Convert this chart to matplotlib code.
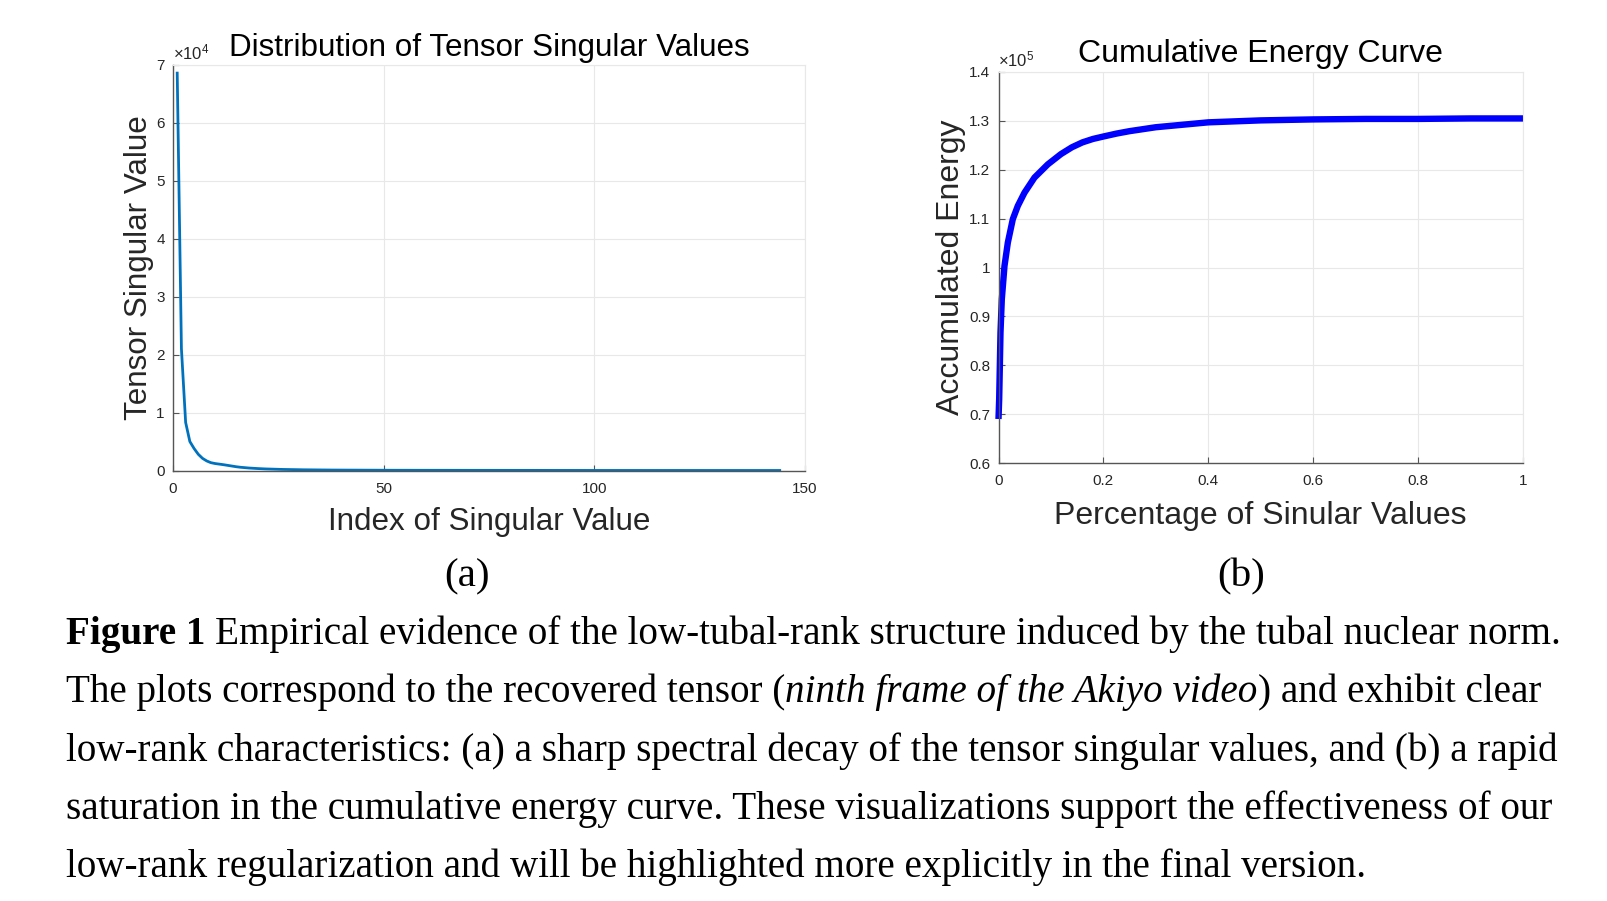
import numpy as np
import matplotlib
matplotlib.use('Agg')
import matplotlib.pyplot as plt
from matplotlib.ticker import FuncFormatter

# figure size in pixels
W, H = 1607, 901

# (a) tensor singular values, index 1..144
sv_head = [68600, 21000, 8300, 5000, 3800, 2800, 2100, 1650, 1350, 1200,
           1100, 1000, 880, 760, 650, 560, 490, 430, 380, 340]
sv_tail = [300, 270, 245, 222, 202, 185, 170, 157, 145, 134,
           124, 115, 107, 100, 94, 88, 83, 78, 74, 70,
           66, 63, 60, 57, 54, 52, 50, 48, 46, 44,
           42, 40, 39, 37, 36, 35, 33, 32, 31, 30,
           29, 28, 27, 26, 25, 25, 24, 23, 22, 22,
           21, 20, 20, 19, 19, 18, 18, 17, 17, 16,
           16, 15, 15, 15, 14, 14, 13, 13, 13, 12,
           12, 12, 11, 11, 11, 11, 10, 10, 10, 10,
           9, 9, 9, 9, 9, 8, 8, 8, 8, 8,
           8, 7, 7, 7, 7, 7, 7, 6, 6, 6,
           6, 6, 6, 6, 5, 5, 5, 5, 5, 5,
           5, 5, 4, 4, 4, 4, 4, 4, 4, 4,
           3, 3, 3, 3]
sing_vals = np.array(sv_head + sv_tail, dtype=float)
sv_index = np.arange(1, len(sing_vals) + 1)

# (b) cumulative energy
pct = [0.0, 0.0013, 0.0038, 0.0063, 0.0114, 0.0178, 0.0273, 0.0368, 0.0495,
       0.0686, 0.094, 0.119, 0.14, 0.16, 0.18, 0.2, 0.225, 0.25, 0.3, 0.35,
       0.4, 0.5, 0.6, 0.7, 0.8, 0.9, 1.0]
energy = [69000, 73100, 86700, 93500, 100300, 105100, 109900, 112600, 115300,
          118400, 121100, 123200, 124600, 125600, 126300, 126800, 127400,
          127900, 128700, 129200, 129700, 130100, 130300, 130400, 130400,
          130500, 130500]

caption = [
    [("Figure 1", "normal", "bold"),
     (" Empirical evidence of the low-tubal-rank structure induced by the tubal nuclear norm.", "normal", "normal")],
    [("The plots correspond to the recovered tensor (", "normal", "normal"),
     ("ninth frame of the Akiyo video", "italic", "normal"),
     (") and exhibit clear", "normal", "normal")],
    [("low-rank characteristics: (a) a sharp spectral decay of the tensor singular values, and (b) a rapid", "normal", "normal")],
    [("saturation in the cumulative energy curve. These visualizations support the effectiveness of our", "normal", "normal")],
    [("low-rank regularization and will be highlighted more explicitly in the final version.", "normal", "normal")],
]

plt.rcParams['font.family'] = ['Liberation Sans', 'DejaVu Sans']
plt.rcParams['mathtext.fontset'] = 'custom'
plt.rcParams['mathtext.rm'] = 'Liberation Sans'
serif = ['Liberation Serif', 'DejaVu Serif']
txt = '#262626'
axc = '#555555'
gridc = '#e8e8e8'

fig = plt.figure(figsize=(W / 100, H / 100), dpi=100)


def style_axes(ax):
    ax.grid(True, color=gridc, lw=0.8)
    ax.set_axisbelow(True)
    for s in ['top', 'right']:
        ax.spines[s].set_color(gridc)
        ax.spines[s].set_linewidth(0.8)
    for s in ['left', 'bottom']:
        ax.spines[s].set_color(axc)
        ax.spines[s].set_linewidth(1.0)
    ax.tick_params(direction='in', length=4, width=0.8, color=axc,
                   labelsize=11, labelcolor=txt)
    ax.tick_params(axis='x', pad=8)
    ax.tick_params(axis='y', pad=6)


# ---- (a) ----
ax1 = fig.add_axes([173 / W, 1 - 470.5 / H, 632 / W, 405.5 / H])
ax1.plot(sv_index, sing_vals, color='#0072BD', lw=2.0)
ax1.set_xlim(0, 150)
ax1.set_ylim(0, 70000)
ax1.set_xticks([0, 50, 100, 150])
ax1.set_yticks(np.arange(0, 70001, 10000))
ax1.yaxis.set_major_formatter(FuncFormatter(lambda v, p: f'{v / 1e4:g}'))
style_axes(ax1)
ax1.set_title('Distribution of Tensor Singular Values', fontsize=22.6,
              y=1.042, va='center', pad=0)
ax1.set_xlabel('Index of Singular Value', fontsize=22.6, color=txt)
ax1.xaxis.set_label_coords(0.5, -0.127)
ax1.xaxis.label.set_va('center')
ax1.set_ylabel('Tensor Singular Value', fontsize=22.6, color=txt)
ax1.yaxis.set_label_coords(-0.0537, 0.5)
ax1.yaxis.label.set_va('center')
ax1.text(0, 1.006, r'$\mathregular{\times10^{4}}$', transform=ax1.transAxes,
         fontsize=12, color=txt, ha='left', va='bottom')

# ---- (b) ----
ax2 = fig.add_axes([998.5 / W, 1 - 463 / H, 524.5 / W, 391 / H])
ax2.plot(pct, energy, color='#0000ff', lw=4.6, solid_capstyle='butt',
         clip_on=False)
ax2.set_xlim(0, 1)
ax2.set_ylim(60000, 140000)
ax2.set_xticks(np.arange(0, 1.01, 0.2))
ax2.set_yticks(np.arange(60000, 140001, 10000))
ax2.xaxis.set_major_formatter(FuncFormatter(lambda v, p: f'{v:g}'))
ax2.yaxis.set_major_formatter(FuncFormatter(lambda v, p: f'{v / 1e5:g}'))
style_axes(ax2)
ax2.set_title('Cumulative Energy Curve', fontsize=23, y=1.046, va='center', pad=0)
ax2.set_xlabel('Percentage of Sinular Values', fontsize=23, color=txt)
ax2.xaxis.set_label_coords(0.5, -0.1356)
ax2.xaxis.label.set_va('center')
ax2.set_ylabel('Accumulated Energy', fontsize=23, color=txt)
ax2.yaxis.set_label_coords(-0.0905, 0.5)
ax2.yaxis.label.set_va('center')
ax2.text(0, 1.006, r'$\mathregular{\times10^{5}}$', transform=ax2.transAxes,
         fontsize=12, color=txt, ha='left', va='bottom')

# ---- sub captions and caption text ----
r = fig.canvas.get_renderer()


def text_width(s, size, style='normal', weight='normal'):
    t = fig.text(0, 0, s, fontsize=size, family=serif, style=style, weight=weight)
    w = t.get_window_extent(r).width
    t.remove()
    return w


# font size chosen so the first caption line spans 66..1566 px
base = 24
sp = text_width('a a', base) - text_width('aa', base)
w1 = text_width('Figure 1', base, weight='bold') + text_width(caption[0][1][0].strip(), base) + sp
cap_size = base * 1500 / w1

fig.text(467 / W, 1 - 577 / H, '(a)', fontsize=cap_size * 1.05, family=serif,
         ha='center', va='center')
fig.text(1241 / W, 1 - 577 / H, '(b)', fontsize=cap_size * 1.05, family=serif,
         ha='center', va='center')

space = text_width('a a', cap_size) - text_width('aa', cap_size)
y0, dy = 644, 58.3
for i, line in enumerate(caption):
    x = 66
    y = y0 + i * dy
    for s, st, wt in line:
        lead = s.startswith(' ')
        s = s.strip()
        if lead:
            x += space
        t = fig.text(x / W, 1 - y / H, s, fontsize=cap_size, family=serif,
                     style=st, weight=wt, va='baseline', ha='left')
        x += t.get_window_extent(r).width

fig.savefig('out.png', dpi=100)
